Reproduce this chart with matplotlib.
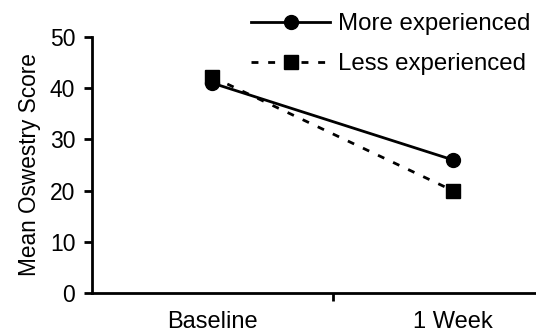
import matplotlib.pyplot as plt

plt.rcParams['font.family'] = ['Liberation Sans', 'DejaVu Sans']

timepoints = ["Baseline", "1 Week"]
more_experienced = [41, 26]
less_experienced = [42.2, 20]

fig = plt.figure(figsize=(5.36, 3.35), dpi=100)
ax = fig.add_axes([0.1716, 0.1254, 0.8284, 0.7642])

x = [0.5, 1.5]
ax.plot(x, more_experienced, color="black", lw=2, marker="o", ms=10,
        label="More experienced")
ax.plot(x, less_experienced, color="black", lw=2, ls=(0, (2.5, 3.5)), marker="s", ms=10,
        label="Less experienced")

ax.set_xlim(0, 1.846)
ax.set_ylim(0, 50)
ax.set_yticks([0, 10, 20, 30, 40, 50])
ax.set_xticks([1])
ax.set_xticklabels([""])
for xi, name in zip(x, timepoints):
    ax.text(xi, -0.07, name, transform=ax.get_xaxis_transform(), ha="center", va="top",
            fontsize=17)
ax.set_ylabel("Mean Oswestry Score", fontsize=16.3, labelpad=6)
ax.tick_params(axis="y", labelsize=16.5, length=6, width=2, direction="out", pad=6)
ax.tick_params(axis="x", length=6, width=2, direction="out")
for s in ["top", "right"]:
    ax.spines[s].set_visible(False)
for s in ["left", "bottom"]:
    ax.spines[s].set_linewidth(2)

fig.legend(loc="upper right", bbox_to_anchor=(0.99, 0.96), frameon=False, fontsize=17.3,
           handlelength=3.3, handletextpad=0.33, labelspacing=0.75, borderaxespad=0,
           borderpad=0)

fig.savefig("out.png", dpi=100)
